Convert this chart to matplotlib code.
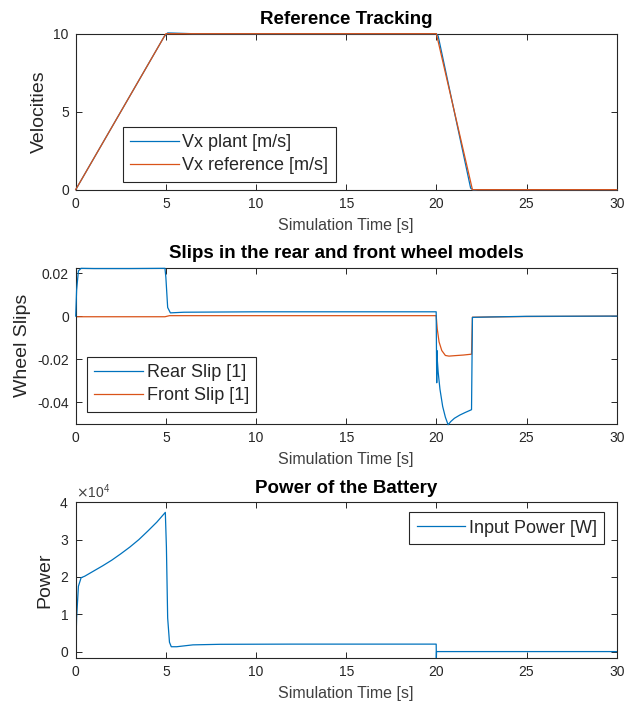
import numpy as np
import matplotlib
matplotlib.use('Agg')
import matplotlib.pyplot as plt
from matplotlib.ticker import ScalarFormatter

plt.rcParams['font.family'] = ['Liberation Sans', 'DejaVu Sans']

BLUE = '#0072BD'
ORANGE = '#D95319'
TXT = '#262626'

# --- data ---
t_ref = [0, 5, 20, 22, 30]
vx_ref = [0, 10, 10, 0, 0]
t_plant = [0, 4.9, 5.1, 5.4, 6.5, 20.0, 20.1, 21.9, 22.05, 22.3, 30]
vx_plant = [0, 9.8, 10.05, 10.04, 10.0, 10.0, 9.85, 0.1, -0.03, 0.0, 0]

t_rear = [0, 0.05, 0.15, 0.3, 1.0, 3.0, 4.95, 5.0, 5.1, 5.25, 6.0, 10, 19.99,
          20.02, 20.03, 20.05, 20.1, 20.2, 20.35, 20.5, 20.65, 20.8, 21.0, 21.3,
          21.6, 21.95, 22.0, 23, 25, 30]
slip_rear = [0, 0.012, 0.021, 0.0222, 0.0221, 0.0221, 0.0222, 0.018, 0.004, 0.0015,
             0.0018, 0.002, 0.002, -0.031, -0.016, -0.02, -0.026, -0.034, -0.042,
             -0.047, -0.0505, -0.049, -0.0475, -0.046, -0.0448, -0.0435, -0.0006,
             -0.0004, -0.0001, 0.0]

t_front = [0, 4.95, 5.2, 10, 19.99, 20.05, 20.15, 20.3, 20.5, 20.7, 21.0, 21.5,
           21.95, 22.0, 25, 30]
slip_front = [-0.0003, -0.0003, 0.0002, 0.0002, 0.0002, -0.006, -0.012, -0.016,
              -0.0183, -0.0186, -0.0184, -0.0181, -0.0177, -0.0005, -0.0002, 0.0]

t_pow = [0, 0.05, 0.15, 0.3, 0.5, 1.0, 1.5, 2.0, 2.5, 3.0, 3.5, 4.0, 4.5, 4.97,
         5.03, 5.1, 5.2, 5.3, 5.6, 6.5, 8, 12, 19.99, 20.0, 20.01, 30]
power = [0, 9000, 17500, 19800, 20200, 21600, 23000, 24500, 26200, 28000, 30000,
         32300, 34700, 37300, 28000, 9000, 2500, 1300, 1300, 1800, 1950, 2000, 2000,
         -1700, 0, 0]

t_lim = (0, 30)
x_ticks = [0, 5, 10, 15, 20, 25, 30]


def style(ax, title, ylabel):
    ax.set_xlim(*t_lim)
    ax.set_xticks(x_ticks)
    ax.set_title(title, fontsize=13.5, fontweight='bold', color='black', pad=7)
    ax.set_ylabel(ylabel, fontsize=14, color=TXT, labelpad=4)
    ax.set_xlabel('Simulation Time [s]', fontsize=11.5, color='#404040', labelpad=5)
    ax.tick_params(direction='in', top=True, right=True, length=4, width=0.7,
                   labelsize=10, colors=TXT, pad=5)
    for s in ax.spines.values():
        s.set_color(TXT)
        s.set_linewidth(0.8)


def legend(ax, loc, anchor):
    lg = ax.legend(loc=loc, bbox_to_anchor=anchor, borderaxespad=0, fontsize=13,
                   fancybox=False, framealpha=1, edgecolor=TXT, handlelength=2.7,
                   handletextpad=0.2, labelspacing=0.35, borderpad=0.4)
    lg.get_frame().set_linewidth(0.8)
    for tx in lg.get_texts():
        tx.set_color(TXT)


fig = plt.figure(figsize=(6.34, 7.08), dpi=100)
L, W, H = 0.1194, 0.8533, 0.2203

ax1 = fig.add_axes([L, 0.7321, W, H])
ax1.plot(t_plant, vx_plant, color=BLUE, lw=0.9, label='Vx plant [m/s]',
         clip_on=False, zorder=3)
ax1.plot(t_ref, vx_ref, color=ORANGE, lw=0.9, label='Vx reference [m/s]',
         clip_on=False, zorder=3)
ax1.set_ylim(0, 10)
ax1.set_yticks([0, 5, 10])
style(ax1, 'Reference Tracking', 'Velocities')
legend(ax1, 'lower left', (0.0869, 0.0513))

ax2 = fig.add_axes([L, 0.4016, W, H])
ax2.plot(t_rear, slip_rear, color=BLUE, lw=0.9, label='Rear Slip [1]',
         clip_on=False, zorder=3)
ax2.plot(t_front, slip_front, color=ORANGE, lw=0.9, label='Front Slip [1]')
ax2.set_ylim(-0.05, 0.0225)
ax2.set_yticks([-0.04, -0.02, 0, 0.02])
ax2.set_yticklabels(['-0.04', '-0.02', '0', '0.02'])
style(ax2, 'Slips in the rear and front wheel models', 'Wheel Slips')
legend(ax2, 'lower left', (0.0214, 0.077))

ax3 = fig.add_axes([L, 0.0702, W, H])
ax3.plot(t_pow, power, color=BLUE, lw=0.9, label='Input Power [W]')
ax3.set_ylim(-1800, 40000)
ax3.set_yticks([0, 10000, 20000, 30000, 40000])
fmt = ScalarFormatter(useMathText=True)
fmt.set_powerlimits((0, 0))
ax3.yaxis.set_major_formatter(fmt)
style(ax3, 'Power of the Battery', 'Power')
ax3.yaxis.get_offset_text().set_fontsize(10)
ax3.yaxis.get_offset_text().set_color('#404040')
legend(ax3, 'upper right', (0.977, 0.936))

fig.savefig('out.png', dpi=100)
